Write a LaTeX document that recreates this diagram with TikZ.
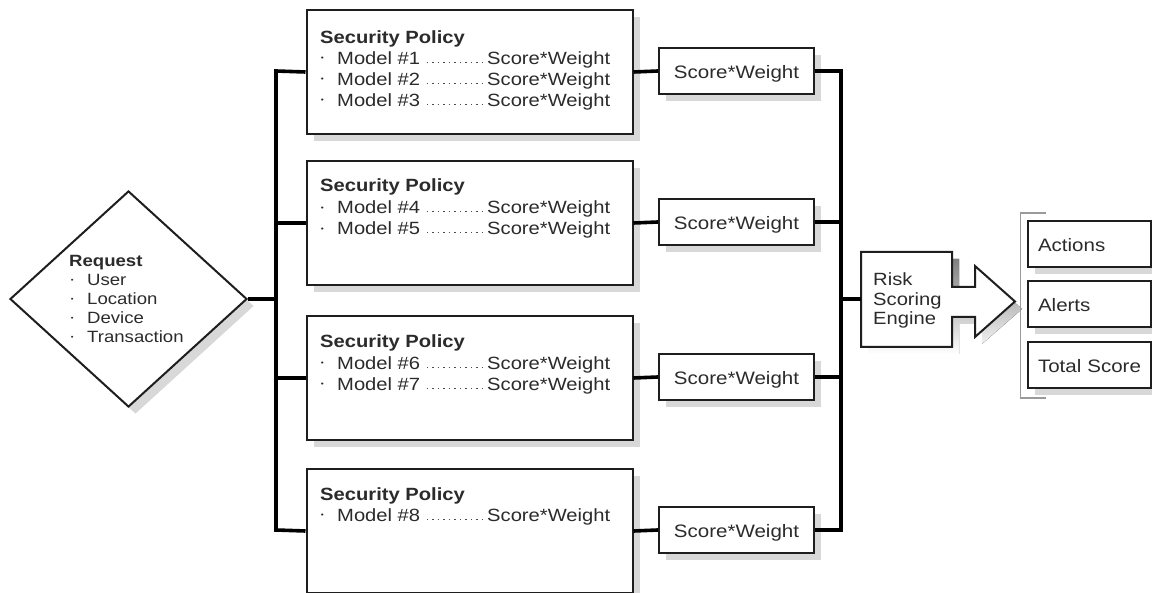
\documentclass[tikz,border=0pt]{standalone}
\usepackage{fontspec}
\setmainfont[FakeStretch=1.14]{Liberation Sans}
\usetikzlibrary{shapes.geometric,shadows}
\definecolor{ink}{HTML}{1E1E1E}
\definecolor{txtc}{HTML}{2B2B2B}
\definecolor{shade}{HTML}{D8D8D8}
\definecolor{brk}{HTML}{9A9A9A}
\newcommand\bul{\makebox[17pt][l]{\hspace{0.6pt}\raisebox{3.6pt}{\scalebox{0.42}{\textbullet}}}}
\newcommand\polline[3]{%
  \node[txt, anchor=base west] (m#3) at (320,#1) {\bul Model \##2};
  \node[txt, anchor=base west] (w#3) at (487,#1) {Score*Weight};
  \draw[leader] ([xshift=6.5pt,yshift=2.2pt]m#3.base east) -- ([xshift=-4pt,yshift=2.2pt]w#3.base west);
}
\newcommand\polhead[2]{%
  \node[txt, anchor=base west, font=\fontsize{17.7}{21}\selectfont\bfseries] (h#2) at (320,#1) {Security Policy};
}
\begin{document}
\begin{tikzpicture}[x=1pt,y=-1pt,
  shadowed/.style={drop shadow={shadow xshift=7pt,shadow yshift=-7pt,fill=shade,opacity=1}},
  box/.style={draw=ink, line width=2pt, fill=white, shadowed, inner sep=0pt},
  policy/.style={box, rectangle, anchor=north west, minimum width=326pt, minimum height=124pt},
  swbox/.style={box, rectangle, minimum width=155pt, minimum height=46pt,
    font=\fontsize{18}{21}\selectfont, text=txtc, text height=15.4pt, text depth=0pt},
  outbox/.style={box, rectangle, anchor=north west, minimum height=46pt, text width=103pt,
    align=left, inner xsep=10pt, font=\fontsize{18}{21}\selectfont, text=txtc,
    text height=15pt, text depth=0pt},
  txt/.style={inner sep=0pt, text=txtc, font=\fontsize{17.7}{21}\selectfont},
  dtxt/.style={inner sep=0pt, text=txtc, font=\fontsize{16.3}{19}\selectfont},
  leader/.style={draw=txtc!85, line width=1.4pt, dash pattern=on 1.4pt off 4.1pt},
  bus/.style={draw=black, line width=3.6pt},
  bracket/.style={draw=brk, line width=1.3pt}
]
\useasboundingbox (0,0) rectangle (1152,593);

% Request diamond
\node[diamond, box, minimum width=237pt, minimum height=216pt] (req) at (128.5,299) {};
\node[dtxt, anchor=base west, font=\fontsize{16.3}{19}\selectfont\bfseries] (rq) at (69,267) {Request};
\node[dtxt, anchor=base west] (r1) at (70,286) {\bul User};
\node[dtxt, anchor=base west] (r2) at (70,305) {\bul Location};
\node[dtxt, anchor=base west] (r3) at (70,324) {\bul Device};
\node[dtxt, anchor=base west] (r4) at (70,343) {\bul Transaction};

% Policy boxes
\node[policy] (p1) at (305.5,9) {};
\node[policy] (p2) at (305.5,160) {};
\node[policy] (p3) at (305.5,315) {};
\node[policy] (p4) at (305.5,468) {};

\polhead{43.5}{1}
\polline{64.5}{1}{a}
\polline{85.5}{2}{b}
\polline{106.5}{3}{c}

\polhead{192}{2}
\polline{214}{4}{d}
\polline{235}{5}{e}

\polhead{347.5}{3}
\polline{369.5}{6}{f}
\polline{390.5}{7}{g}

\polhead{500.5}{4}
\polline{521.5}{8}{h}

% Score*Weight boxes
\node[swbox] (s1) at (736.5,71) {Score*Weight};
\node[swbox] (s2) at (736.5,222) {Score*Weight};
\node[swbox] (s3) at (736.5,377) {Score*Weight};
\node[swbox] (s4) at (736.5,530) {Score*Weight};

% Risk scoring engine
\fill[shade] (868,259) -- (959,259) -- (959,294) -- (982,294) -- (982,273) -- (1022,309)
  -- (982,344) -- (982,324) -- (959,324) -- (959,354) -- (868,354) -- cycle;
\draw[ink, line width=2pt, fill=white, line join=miter] (861,252) -- (952,252) -- (952,287) -- (975,287)
  -- (975,266) -- (1015,301.5) -- (975,337) -- (975,317) -- (952,317) -- (952,347) -- (861,347) -- cycle;
\coordinate (risk) at (861,299);
\node[txt, anchor=base west] (k1) at (873,286) {Risk};
\node[txt, anchor=base west] (k2) at (873,305.5) {Scoring};
\node[txt, anchor=base west] (k3) at (873,325) {Engine};

% Output bracket and boxes
\draw[bracket] (1046,213) -- (1020.5,213) -- (1020.5,398) -- (1046,398);
\node[outbox] (o1) at (1027,220) {Actions};
\node[outbox] (o2) at (1027,280.5) {Alerts};
\node[outbox] (o3) at (1027,341) {Total Score};

% Buses
\coordinate (lt) at (276,71);
\coordinate (lb) at (276,530);
\draw[bus] (p1.west) -- (lt) -- (lb) -- (p4.west);
\draw[bus] (p2.west) -- (p2.west -| lt);
\draw[bus] (p3.west) -- (p3.west -| lt);
\draw[bus] (req.east) -- (req.east -| lt);

\draw[bus] (p1.east) -- (s1.west);
\draw[bus] (p2.east) -- (s2.west);
\draw[bus] (p3.east) -- (s3.west);
\draw[bus] (p4.east) -- (s4.west);

\coordinate (rt) at (841,71);
\coordinate (rb) at (841,530);
\draw[bus] (s1.east) -- (rt) -- (rb) -- (s4.east);
\draw[bus] (s2.east) -- (s2.east -| rt);
\draw[bus] (s3.east) -- (s3.east -| rt);
\draw[bus] (risk -| rt) -- (risk);
\end{tikzpicture}
\end{document}
